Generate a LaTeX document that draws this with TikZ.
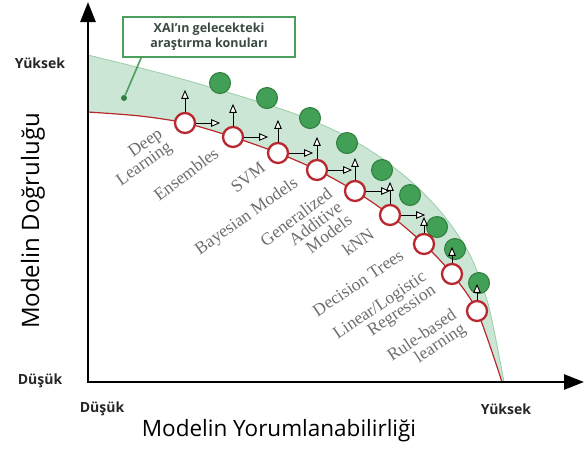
\documentclass[tikz,border=0pt]{standalone}
\usepackage{fontspec}
\setmainfont{Open Sans}
\newfontfamily\algofont{Liberation Serif}
\usetikzlibrary{arrows.meta,positioning}
\definecolor{bandgreen}{HTML}{CBE6D4}
\definecolor{edgegreen}{HTML}{9ACDA8}
\definecolor{dotgreen}{HTML}{41A055}
\definecolor{dotborder}{HTML}{2E7D3E}
\definecolor{boxgreen}{HTML}{4C9E5C}
\definecolor{curvered}{HTML}{B8282E}
\definecolor{labelgray}{HTML}{6E6E6E}
\definecolor{boxtext}{HTML}{3A4A40}
\begin{document}
\begin{tikzpicture}[x=1pt, y=-1pt,
    axis/.style={line width=2.6pt, {Triangle[length=20pt,width=15pt]}-{Triangle[length=20pt,width=15pt]}},
    model/.style={circle, draw=curvered, line width=2.3pt, fill=white, minimum size=20pt, inner sep=0pt},
    future/.style={circle, draw=dotborder, line width=1pt, fill=dotgreen, minimum size=21pt, inner sep=0pt},
    vec/.style={-{Triangle[fill=white, length=9pt, width=7.5pt]}, line width=0.9pt},
    algo/.style={font=\algofont\fontsize{17.5}{16.5}\selectfont, text=labelgray, align=right, rotate=35, inner sep=0pt},
    level/.style={font=\bfseries\fontsize{14}{16}\selectfont, text=black!85}]
\useasboundingbox (0,0) rectangle (585,448);

% Band of future research
\fill [bandgreen] plot[smooth] coordinates {(88,55) (160,73) (220,90) (290,112) (340,133) (380,157) (415,185) (445,217) (470,255) (487,300) (496,340) (504,382)}
    -- plot[smooth] coordinates {(502,382) (477,311) (452,274) (424,244) (390,215) (355,191) (317,170) (278,153) (233,137) (185,123) (140,116) (88,112)} -- cycle;
\draw [edgegreen, line width=0.8pt] plot[smooth] coordinates {(88,55) (160,73) (220,90) (290,112) (340,133) (380,157) (415,185) (445,217) (470,255) (487,300) (496,340) (504,382)};
\draw [curvered, line width=1.2pt] plot[smooth] coordinates {(88,112) (140,116) (185,123) (233,137) (278,153) (317,170) (355,191) (390,215) (424,244) (452,274) (477,311) (502,382)};

% Axes
\coordinate (o) at (88,382);
\coordinate (ytip) at (88,2);
\coordinate (xtip) at (584,382);
\draw [axis] (ytip) -- (o) -- (xtip);

% Circles
\foreach \p [count=\i] in {(220,83),(267,98),(310,118),(347,143),(382,170),(410,195),(437,227),(455,249),(479,283)}
    \node [future] (g\i) at \p {};
\foreach \p [count=\i] in {(185,123),(233,137),(278,153),(317,170),(355,191),(390,215),(424,244),(452,274),(477,311)}
    \node [model] (r\i) at \p {};

% Arrows
\foreach \i in {1,...,6} {
    \coordinate [above=22pt of r\i] (u\i);
    \coordinate [right=24pt of r\i] (h\i);
    \draw [vec] (r\i) -- (u\i);
    \draw [vec] (r\i) -- (h\i);
}
\foreach \i in {7,8,9} {
    \coordinate [above=16pt of r\i] (u\i);
    \draw [vec] (r\i) -- (u\i);
}

% Model labels
\node [algo] (deep) at (140,158) {Deep\\Learning};
\node [algo, rotate=2] (ens) at (186,174) {Ensembles};
\node [algo, rotate=3] (svm) at (248,177) {SVM};
\node [algo] (bayes) at (247,217) {Bayesian Models};
\node [algo, rotate=2] (gam) at (306,230) {Generalized\\Additive\\Models};
\node [algo] (knn) at (358,242) {kNN};
\node [algo, rotate=-1] (tree) at (358,283) {Decision Trees};
\node [algo, rotate=-1] (lin) at (385,313) {Linear/Logistic\\Regression};
\node [algo, rotate=-1] (rule) at (427,343) {Rule-based\\learning};

% Note
\node [draw=boxgreen, line width=1.8pt, fill=white, minimum width=172pt, minimum height=40pt, align=center,
    font=\bfseries\fontsize{12.5}{15}\selectfont, text=boxtext] (note) at (209,37) {XAI’ın gelecekteki\\araştırma konuları};
\node [circle, fill=dotgreen!80!black, minimum size=6pt, inner sep=0pt] (pin) at (124,98) {};
\draw [boxgreen, line width=1.6pt] ([xshift=19pt]note.south west) -- (pin);

% Axis labels
\node [level] (yhigh) at (40,63) {Yüksek};
\node [level] (ylow) at (40,381) {Düşük};
\node [level] (xlow) at (102,409) {Düşük};
\node [level] (xhigh) at (506,409) {Yüksek};
\node [font=\fontsize{22.5}{26}\selectfont] (xtitle) at (279,431) {Modelin Yorumlanabilirliği};
\node [font=\fontsize{24}{28}\selectfont, rotate=90] (ytitle) at (33,221) {Modelin Doğruluğu};
\end{tikzpicture}
\end{document}
